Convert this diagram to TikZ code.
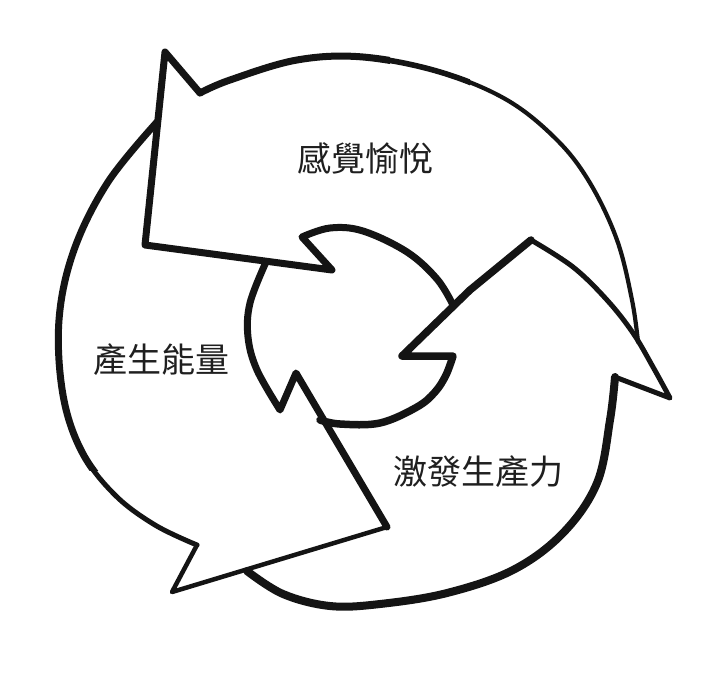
\documentclass[tikz,border=0pt]{standalone}
\usepackage{fontspec}
\newfontfamily\cjk{Noto Sans CJK TC}
\begin{document}
\begin{tikzpicture}[x=1pt,y=-1pt,
  ln/.style={line width=#1, line join=round, line cap=round, draw=black!92},
  lbl/.style={font=\cjk\fontsize{34}{40}\selectfont, text=black!88, inner sep=0pt}]
\useasboundingbox[fill=white] (0,0) rectangle (711,675);
% ---------- arrow 1 (top) ----------
\def\arcA{plot[smooth,tension=0.6] coordinates {(638,342)(632,300)(617,240)(590,183)(557,140)(507,100)(440,72)(363,57)(297,60)(230,80)(200,93)}}
\draw[ln=4.2pt] \arcA;
\begin{scope}\clip (0,0) rectangle (470,675);\draw[ln=5.6pt] \arcA;\end{scope}
\begin{scope}\clip (0,0) rectangle (390,675);\draw[ln=7pt] \arcA;\end{scope}
\draw[ln=7pt] (200,93) -- (165,52) -- (145,245) -- (332,270) -- (302,237)
  -- plot[smooth,tension=0.6] coordinates {(302,237)(330,228)(363,231)(407,252)(437,279)(453,305)};
% ---------- arrow 2 (right) ----------
\draw[ln=8pt] plot[smooth,tension=0.6] coordinates {(247,571)(283,594)(330,606)(380,604)(447,593)(513,570)(563,533)(597,483)(610,420)(615,377)};
\draw[ln=5pt] (615,377) -- (670,398)
  -- plot[smooth,tension=0.6] coordinates {(670,398)(653,367)(633,333)(607,300)(573,267)(531,240)};
\draw[ln=7.5pt] (531,240) -- (470,290) -- (402,356) -- (453,356)
  -- plot[smooth,tension=0.6] coordinates {(453,356)(446,375)(435,392)(417,407)(380,423)(340,424)(320,420)};
% ---------- arrow 3 (left) ----------
\def\arcC{plot[smooth,tension=0.6] coordinates {(157,122)(108,182)(74,250)(59,320)(63,395)(82,452)(115,495)(155,525)(197,545)}}
\draw[ln=5pt] \arcC;
\begin{scope}\clip (0,0) rectangle (711,470);\draw[ln=7pt] \arcC;\end{scope}
\draw[ln=4.5pt] (197,545) -- (172,592) -- (387,527);
\draw[ln=7pt] (387,527) -- (296,373) -- (280,410)
  -- plot[smooth,tension=0.6] coordinates {(280,410)(257,370)(248,337)(250,303)(266,262)};
% ---------- labels ----------
\node[lbl] (t1) at (365,158) {感覺愉悅};
\node[lbl] (t2) at (161,360) {產生能量};
\node[lbl] (t3) at (478,472) {激發生產力};
\end{tikzpicture}
\end{document}
